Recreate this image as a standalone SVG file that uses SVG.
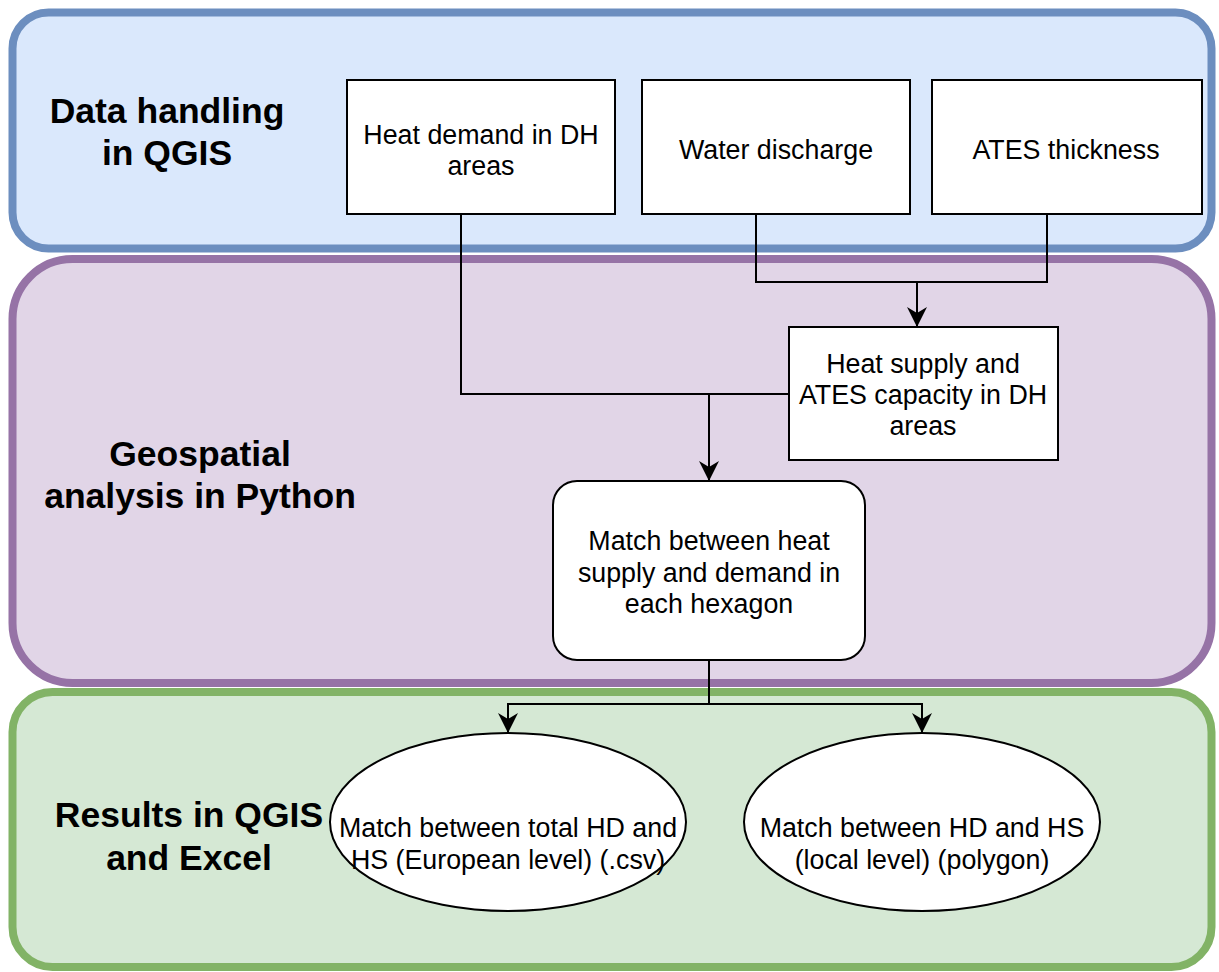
<svg xmlns="http://www.w3.org/2000/svg" width="1219" height="972" viewBox="0 0 1219 972">
<style>
.t{font-family:"Liberation Sans",Arial,sans-serif;font-size:26.8px;fill:#000;text-anchor:middle}
.b{font-family:"Liberation Sans",Arial,sans-serif;font-size:35.5px;font-weight:bold;fill:#000;text-anchor:middle}
.box{fill:#fff;stroke:#000;stroke-width:2}
.c{fill:none;stroke:#000;stroke-width:2}
</style>
<defs>
<marker id="ah" markerUnits="userSpaceOnUse" markerWidth="20" markerHeight="20" viewBox="0 0 20 20" refX="20" refY="10" orient="auto">
<path d="M0,0 L20,10 L0,20 L6,10 Z" fill="#000"/>
</marker>
</defs>
<g id="lane-data">
<rect x="12.5" y="12.5" width="1199" height="236" rx="36" fill="#dae8fc" stroke="#6c8ebf" stroke-width="8"/>
<text class="b" x="167" y="123">Data handling</text>
<text class="b" x="167" y="165">in QGIS</text>
</g>
<g id="lane-geo">
<rect x="12.5" y="259" width="1199" height="424" rx="60" fill="#e1d5e7" stroke="#9673a6" stroke-width="8"/>
<text class="b" x="200" y="466">Geospatial</text>
<text class="b" x="200" y="508">analysis in Python</text>
</g>
<g id="lane-results">
<rect x="12.5" y="692" width="1199" height="275" rx="40" fill="#d5e8d4" stroke="#82b366" stroke-width="8"/>
<text class="b" x="189" y="827">Results in QGIS</text>
<text class="b" x="189" y="870">and Excel</text>
</g>
<g id="connectors">
<polyline class="c" points="461,214 461,394 709,394 709,481" marker-end="url(#ah)"/>
<polyline class="c" points="789,394 709,394"/>
<polyline class="c" points="756,214 756,282 917,282 917,327" marker-end="url(#ah)"/>
<polyline class="c" points="1047,214 1047,282 917,282"/>
<polyline class="c" points="709,660 709,704 508,704 508,733" marker-end="url(#ah)"/>
<polyline class="c" points="709,704 922,704 922,733" marker-end="url(#ah)"/>
</g>
<g id="heat-demand">
<rect class="box" x="347" y="80" width="268" height="134"/>
<text class="t" x="481" y="144">Heat demand in DH</text>
<text class="t" x="481" y="175">areas</text>
</g>
<g id="water-discharge">
<rect class="box" x="642" y="80" width="268" height="134"/>
<text class="t" x="776" y="159">Water discharge</text>
</g>
<g id="ates-thickness">
<rect class="box" x="932" y="80" width="270" height="134"/>
<text class="t" x="1066" y="159">ATES thickness</text>
</g>
<g id="heat-supply">
<rect class="box" x="789" y="327" width="269" height="133"/>
<text class="t" x="923" y="373">Heat supply and</text>
<text class="t" x="923" y="404">ATES capacity in DH</text>
<text class="t" x="923" y="435">areas</text>
</g>
<g id="match">
<rect class="box" x="553" y="481" width="312" height="179" rx="24"/>
<text class="t" x="709" y="550">Match between heat</text>
<text class="t" x="709" y="582">supply and demand in</text>
<text class="t" x="709" y="613">each hexagon</text>
</g>
<g id="result-european">
<ellipse class="box" cx="508" cy="822" rx="178" ry="89"/>
<text class="t" x="508" y="837">Match between total HD and</text>
<text class="t" x="508" y="869">HS (European level) (.csv)</text>
</g>
<g id="result-local">
<ellipse class="box" cx="922" cy="822" rx="178" ry="89"/>
<text class="t" x="922" y="837">Match between HD and HS</text>
<text class="t" x="922" y="869">(local level) (polygon)</text>
</g>
</svg>
